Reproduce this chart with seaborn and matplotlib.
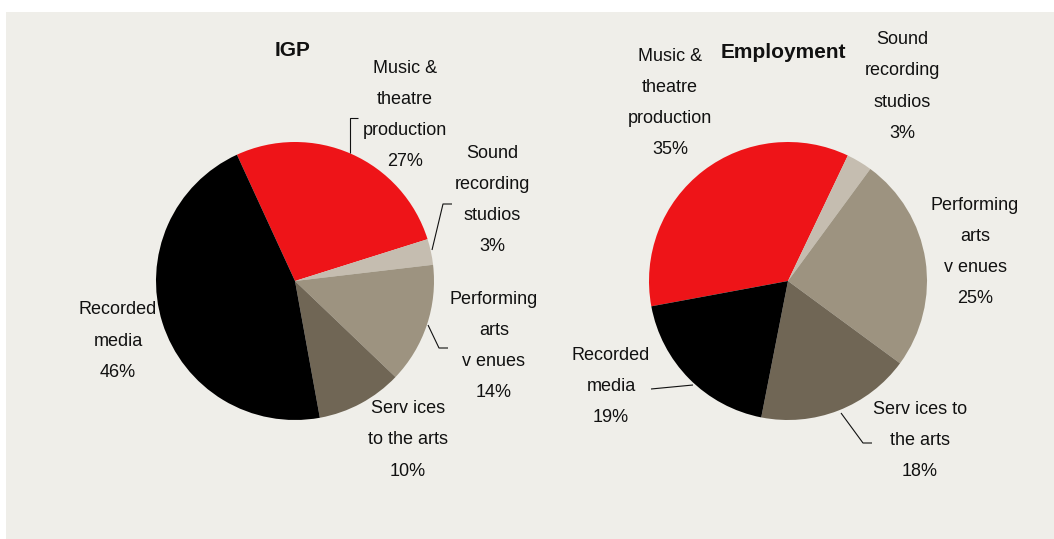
import matplotlib
matplotlib.use("Agg")
import matplotlib.pyplot as plt
from matplotlib.patches import Rectangle
import seaborn as sns

# Sector shares (%)
categories = ["Music & theatre production", "Sound recording studios",
              "Performing arts venues", "Services to the arts", "Recorded media"]
igp_values = [27, 3, 14, 10, 46]
employment_values = [35, 3, 25, 18, 19]

igp_labels = ["Music &\ntheatre\nproduction", "Sound\nrecording\nstudios",
              "Performing\narts\nv enues", "Serv ices\nto the arts", "Recorded\nmedia"]
emp_labels = ["Music &\ntheatre\nproduction", "Sound\nrecording\nstudios",
              "Performing\narts\nv enues", "Serv ices to\nthe arts", "Recorded\nmedia"]

colors = ["#EE1418", "#C5BDB0", "#9D9380", "#706655", "#000000"]

sns.set_theme(style="white")
plt.rcParams["font.family"] = ["Liberation Sans", "DejaVu Sans"]

W, H = 1054, 539
fig = plt.figure(figsize=(W / 100, H / 100), dpi=100)
fig.patch.set_facecolor("white")
ax = fig.add_axes([0, 0, 1, 1])
ax.set_xlim(0, W)
ax.set_ylim(0, H)
ax.set_aspect("equal")
ax.axis("off")


def py(y):
    # pixel row (top-down) to data y (bottom-up)
    return H - y


# panel background
ax.add_patch(Rectangle((6, 0), W - 6, H - 12, facecolor="#EFEEE9", edgecolor="none", zorder=0))

R = 139
pies = [
    dict(values=igp_values, labels=igp_labels, center=(295, 281), start=114.7, title="IGP",
         title_pos=(293, 51),
         label_pos=[(405, 115), (492, 200), (494, 346), (408, 440), (118, 341)],
         leaders=[[(350, 153), (350, 118), (358, 118)],
                  [(432, 250), (443, 204), (452, 204)],
                  [(428, 325), (439, 348), (448, 348)]]),
    dict(values=employment_values, labels=emp_labels, center=(788, 281), start=190.5,
         title="Employment", title_pos=(783, 52),
         label_pos=[(670, 103), (902, 86.5), (975, 252), (920, 440.5), (611, 386.5)],
         leaders=[[(841, 413), (863, 443), (872, 443)],
                  [(693, 385), (651, 389)]]),
]

for p in pies:
    cx, cy = p["center"]
    ax.pie(p["values"], colors=colors, center=(cx, py(cy)), radius=R,
           startangle=p["start"], counterclock=False,
           wedgeprops=dict(linewidth=0), frame=True)
    ax.text(p["title_pos"][0], py(p["title_pos"][1]), p["title"], ha="center", va="center",
            fontsize=15, fontweight="bold", color="#111111")
    for lab, val, (lx, ly) in zip(p["labels"], p["values"], p["label_pos"]):
        ax.text(lx, py(ly), f"{lab}\n{val}%", ha="center", va="center",
                fontsize=13, linespacing=2.08, color="#111111")
    for path in p["leaders"]:
        xs = [q[0] for q in path]
        ys = [py(q[1]) for q in path]
        ax.plot(xs, ys, color="#111111", lw=0.8, solid_capstyle="butt")

ax.set_xlim(0, W)
ax.set_ylim(0, H)
ax.axis("off")
fig.savefig("out.png", dpi=100, facecolor="white")
